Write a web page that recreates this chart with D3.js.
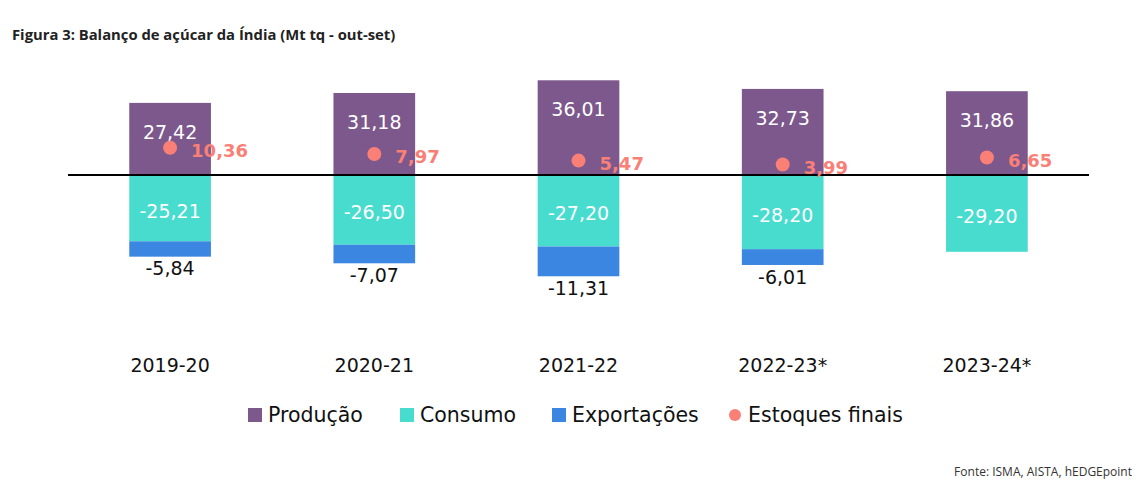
<!DOCTYPE html>
<html>
<head>
<meta charset="utf-8">
<script src="https://cdn.jsdelivr.net/npm/d3@7"></script>
<style>
  html, body { margin: 0; padding: 0; background: #fff; }
  svg { display: block; }
</style>
</head>
<body>
<svg id="chart" width="1147" height="488"></svg>
<script>
const categories = ["2019-20", "2020-21", "2021-22", "2022-23*", "2023-24*"];
const producao = [27.42, 31.18, 36.01, 32.73, 31.86];
const consumo = [-25.21, -26.50, -27.20, -28.20, -29.20];
const exportacoes = [-5.84, -7.07, -11.31, -6.01, null];
const estoques = [10.36, 7.97, 5.47, 3.99, 6.65];
const seriesNames = ["Produção", "Consumo", "Exportações", "Estoques finais"];
const colors = { prod: "#7c588c", cons: "#48dccf", exp: "#3a86e0", est: "#f97f77" };

const fmt = v => d3.format(".2f")(v).replace("\u2212", "-").replace(".", ",");
const mainFont = "'DejaVu Sans', sans-serif";
const svg = d3.select("#chart");

const x = d3.scaleBand().domain(categories).range([68, 1089]).paddingInner(0.6).paddingOuter(0.3);
const y = d3.scaleLinear().domain([-45, 40]).range([175 + 45 * 2.63, 175 - 40 * 2.63]);

// Title
svg.append("text").attr("x", 12).attr("y", 40)
  .attr("font-family", "'Open Sans', sans-serif").attr("font-weight", 700)
  .attr("font-size", 14.8).attr("fill", "#222")
  .text("Figura 3: Balanço de açúcar da Índia (Mt tq - out-set)");

// Production bars
svg.selectAll(".prod").data(categories).join("rect")
  .attr("x", d => x(d)).attr("width", x.bandwidth())
  .attr("y", (d, i) => y(producao[i])).attr("height", (d, i) => y(0) - y(producao[i]))
  .attr("fill", colors.prod);

// Consumption bars
svg.selectAll(".cons").data(categories).join("rect")
  .attr("x", d => x(d)).attr("width", x.bandwidth())
  .attr("y", y(0)).attr("height", (d, i) => y(consumo[i]) - y(0))
  .attr("fill", colors.cons);

// Export bars (stacked below consumption)
const expData = categories.map((c, i) => ({ c, i })).filter(d => exportacoes[d.i] != null);
svg.selectAll(".exp").data(expData).join("rect")
  .attr("x", d => x(d.c)).attr("width", x.bandwidth())
  .attr("y", d => y(consumo[d.i]))
  .attr("height", d => y(consumo[d.i] + exportacoes[d.i]) - y(consumo[d.i]))
  .attr("fill", colors.exp);

// Zero line
svg.append("line").attr("x1", 68).attr("x2", 1089).attr("y1", y(0)).attr("y2", y(0))
  .attr("stroke", "#000").attr("stroke-width", 2);

// Production labels
svg.selectAll(".plab").data(categories).join("text")
  .attr("x", d => x(d) + x.bandwidth() / 2)
  .attr("y", (d, i) => y(producao[i]) + 29)
  .attr("dy", "0.35em").attr("text-anchor", "middle")
  .attr("font-family", mainFont).attr("font-size", 19).attr("fill", "#fff")
  .text((d, i) => fmt(producao[i]));

// Consumption labels
svg.selectAll(".clab").data(categories).join("text")
  .attr("x", d => x(d) + x.bandwidth() / 2)
  .attr("y", (d, i) => (y(0) + y(consumo[i])) / 2 + 3)
  .attr("dy", "0.35em").attr("text-anchor", "middle")
  .attr("font-family", mainFont).attr("font-size", 19).attr("fill", "#fff")
  .text((d, i) => fmt(consumo[i]));

// Export labels (below bar)
svg.selectAll(".elab").data(expData).join("text")
  .attr("x", d => x(d.c) + x.bandwidth() / 2)
  .attr("y", d => y(consumo[d.i] + exportacoes[d.i]) + 12)
  .attr("dy", "0.35em").attr("text-anchor", "middle")
  .attr("font-family", mainFont).attr("font-size", 19).attr("fill", "#111")
  .text(d => fmt(exportacoes[d.i]));

// Stock dots
svg.selectAll(".dot").data(categories).join("circle")
  .attr("cx", d => x(d) + x.bandwidth() / 2)
  .attr("cy", (d, i) => y(estoques[i]))
  .attr("r", 7).attr("fill", colors.est);

svg.selectAll(".slab").data(categories).join("text")
  .attr("x", d => x(d) + x.bandwidth() / 2 + 21)
  .attr("y", (d, i) => y(estoques[i]) + 3)
  .attr("dy", "0.35em")
  .attr("font-family", mainFont).attr("font-weight", 700).attr("font-size", 18)
  .attr("fill", colors.est)
  .text((d, i) => fmt(estoques[i]));

// Category labels
svg.selectAll(".cat").data(categories).join("text")
  .attr("x", d => x(d) + x.bandwidth() / 2).attr("y", 365)
  .attr("dy", "0.35em").attr("text-anchor", "middle")
  .attr("font-family", mainFont).attr("font-size", 19).attr("fill", "#111")
  .text(d => d);

// Legend
const legendX = [248, 400, 552, 728];
const legendColors = [colors.prod, colors.cons, colors.exp, colors.est];
const lg = svg.selectAll(".lg").data(seriesNames).join("g")
  .attr("transform", (d, i) => `translate(${legendX[i]},415)`);
lg.each(function(d, i) {
  const g = d3.select(this);
  if (i < 3) {
    g.append("rect").attr("x", 0).attr("y", -7).attr("width", 14).attr("height", 14).attr("fill", legendColors[i]);
  } else {
    g.append("circle").attr("cx", 7).attr("cy", 0).attr("r", 6).attr("fill", legendColors[i]);
  }
  g.append("text").attr("x", 20).attr("y", 0).attr("dy", "0.35em")
    .attr("font-family", mainFont).attr("font-size", 20.5).attr("fill", "#111").text(d);
});

// Source
svg.append("text").attr("x", 1132).attr("y", 476).attr("text-anchor", "end")
  .attr("font-family", "'Open Sans', sans-serif").attr("font-size", 12).attr("fill", "#333")
  .text("Fonte: ISMA, AISTA, hEDGEpoint");
</script>
</body>
</html>
